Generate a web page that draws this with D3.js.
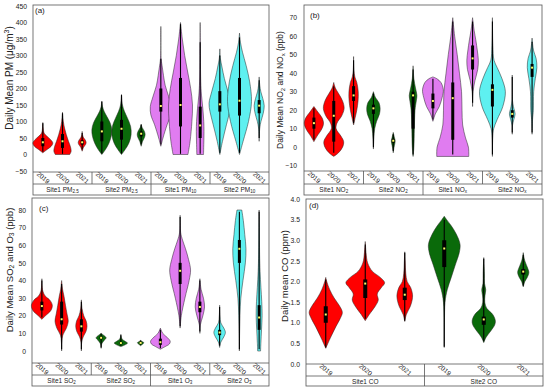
<!DOCTYPE html>
<html>
<head>
<meta charset="utf-8">
<script src="https://cdn.jsdelivr.net/npm/d3@7"></script>
<style>
  body { margin: 0; background: #fff; }
  svg { display: block; }
  text { font-family: Arial, "Liberation Sans", sans-serif; fill: #222; }
</style>
</head>
<body>
<script>
const width = 550;
const height = 391;

// ---- data ----
const years = ["2019", "2020", "2021"];

// group labels: [text, subscript]
const pmGroups = [["Site1 PM", "2.5"], ["Site2 PM", "2.5"], ["Site1 PM", "10"], ["Site2 PM", "10"]];
const no2Groups = [["Site1 NO", "2"], ["Site2 NO", "2"], ["Site1 NO", "x"], ["Site2  NO", "x"]];
const so2Groups = [["Site1 SO", "2"], ["Site2 SO", "2"], ["Site1 O", "3"], ["Site2 O", "3"]];
const coGroups = [["Site1 CO", ""], ["Site2 CO", ""]];

const pmTicks = [-50, 0, 50, 100, 150, 200, 250, 300, 350, 400, 450];
const no2Ticks = [-10, 0, 10, 20, 30, 40, 50, 60, 70];
const so2Ticks = [0, 10, 20, 30, 40, 50, 60, 70, 80];
const coTicks = [0, 0.5, 1, 1.5, 2, 2.5, 3, 3.5, 4];

// box stats per violin: [whisker low, q1, median, q3, whisker high]
const pmStats = [
  [8, 25, 37, 50, 95], [2, 20, 40, 62, 125], [15, 30, 37, 43, 65],
  [3, 40, 70, 100, 160], [3, 45, 78, 105, 180], [30, 55, 63, 70, 90],
  [30, 130, 147, 200, 290], [2, 85, 150, 232, 395], [2, 50, 88, 145, 340],
  [5, 130, 152, 192, 300], [5, 118, 163, 232, 355], [50, 125, 148, 165, 225]
];
const no2Stats = [
  [4, 10, 13, 16, 21], [-3, 3, 17, 25, 33], [13, 25, 28, 33, 47],
  [0, 18, 21, 23, 29], [-2, 2.5, 3.5, 4.5, 7], [-4, 10, 28, 30, 42],
  [15, 21, 25, 29, 37], [-4, 4, 26.5, 35, 68], [24, 42, 48, 55, 68],
  [-4, 22, 31, 34, 68], [8, 16, 18, 20, 38], [8, 38, 43, 45, 57]
];
const so2Stats = [
  [19, 23, 25.5, 28, 40], [1, 15, 18, 28, 38], [1, 11, 14, 18, 28],
  [2, 6.8, 7.5, 8.3, 10], [3, 4, 4.5, 5, 9], [3.5, 4.3, 4.6, 5, 6],
  [1.5, 3.5, 5, 7, 12], [14, 38, 45.5, 50, 76], [11, 22, 25, 28, 40],
  [3, 9, 10.5, 12, 25], [1, 50, 58, 63, 79], [1, 12, 19, 26, 79]
];
const coStats = [
  [0.4, 1.0, 1.2, 1.4, 2.05], [1.1, 1.6, 1.95, 2.05, 2.9], [1.05, 1.55, 1.68, 1.85, 2.7],
  [0.42, 2.35, 2.8, 3.0, 3.5], [0.55, 0.95, 1.08, 1.15, 2.55], [1.9, 2.17, 2.24, 2.3, 2.65]
];

// violin outlines: [value, relative density]
const pmShapes = [
  [[5, 0], [15, 0.35], [25, 0.7], [35, 0.83], [45, 0.65], [55, 0.35], [65, 0.1], [80, 0.03], [97, 0]],
  [[0, 0.6], [10, 0.72], [25, 0.65], [40, 0.5], [60, 0.32], [80, 0.17], [100, 0.07], [128, 0]],
  [[10, 0], [22, 0.12], [30, 0.28], [37, 0.33], [45, 0.24], [52, 0.1], [60, 0.03], [70, 0]],
  [[0, 0], [15, 0.3], [35, 0.6], [55, 0.78], [75, 0.83], [95, 0.7], [115, 0.42], [130, 0.2], [145, 0.06], [162, 0]],
  [[0, 0], [15, 0.3], [35, 0.62], [60, 0.8], [85, 0.76], [110, 0.5], [130, 0.25], [150, 0.08], [182, 0]],
  [[25, 0], [40, 0.12], [52, 0.28], [62, 0.33], [72, 0.24], [82, 0.08], [92, 0]],
  [[25, 0], [50, 0.18], [90, 0.52], [120, 0.83], [145, 0.88], [175, 0.66], [210, 0.36], [240, 0.22], [265, 0.12], [290, 0.03], [388, 0]],
  [[0, 0.62], [40, 0.8], [100, 0.95], [150, 1.0], [200, 0.85], [250, 0.6], [300, 0.35], [350, 0.15], [400, 0]],
  [[0, 0.28], [30, 0.3], [70, 0.32], [100, 0.3], [140, 0.22], [180, 0.11], [220, 0.05], [300, 0.02], [400, 0]],
  [[0, 0], [40, 0.22], [90, 0.55], [130, 0.82], [155, 0.9], [190, 0.68], [230, 0.38], [265, 0.18], [290, 0.05], [320, 0]],
  [[0, 0], [40, 0.3], [100, 0.75], [160, 1.0], [220, 0.85], [270, 0.55], [310, 0.25], [340, 0.08], [368, 0]],
  [[40, 0], [80, 0.05], [100, 0.15], [125, 0.34], [148, 0.42], [170, 0.3], [190, 0.14], [210, 0.05], [235, 0]]
];
const no2Shapes = [
  [[3, 0], [6, 0.2], [10, 0.5], [13, 0.6], [16, 0.5], [19, 0.25], [22, 0]],
  [[-5, 0], [-3, 0.3], [0, 0.55], [3, 0.62], [6, 0.45], [10, 0.15], [13, 0.2], [17, 0.5], [21, 0.65], [25, 0.55], [29, 0.3], [32, 0.1], [35, 0]],
  [[12, 0], [16, 0.1], [20, 0.2], [25, 0.28], [30, 0.29], [35, 0.2], [38, 0.08], [42, 0.02], [49, 0]],
  [[-1, 0], [5, 0.03], [10, 0.08], [14, 0.2], [18, 0.38], [21, 0.42], [24, 0.35], [27, 0.12], [30, 0]],
  [[-3, 0], [0, 0.05], [2, 0.1], [3.5, 0.12], [5, 0.08], [8, 0]],
  [[-5, 0], [0, 0.05], [10, 0.08], [20, 0.12], [25, 0.2], [28, 0.24], [32, 0.15], [37, 0.05], [44, 0]],
  [[14, 0], [18, 0.15], [22, 0.4], [27, 0.58], [31, 0.65], [35, 0.5], [37, 0.25], [38, 0]],
  [[-5, 1.0], [0, 0.98], [5, 0.8], [12, 0.62], [20, 0.58], [30, 0.55], [40, 0.42], [50, 0.28], [60, 0.12], [70, 0]],
  [[22, 0], [30, 0.03], [36, 0.15], [42, 0.32], [47, 0.36], [52, 0.3], [58, 0.2], [63, 0.1], [67, 0.04], [70, 0]],
  [[-5, 0], [5, 0.02], [10, 0.08], [15, 0.3], [22, 0.65], [30, 0.81], [37, 0.6], [43, 0.3], [47, 0.1], [55, 0.03], [70, 0]],
  [[7, 0], [12, 0.02], [15, 0.1], [18, 0.18], [21, 0.1], [25, 0.02], [39, 0]],
  [[7, 0], [15, 0.03], [20, 0.08], [30, 0.1], [37, 0.2], [43, 0.3], [48, 0.25], [52, 0.1], [56, 0.03], [59, 0]]
];
const so2Shapes = [
  [[18, 0], [20, 0.3], [23, 0.75], [26, 0.87], [29, 0.65], [31, 0.3], [34, 0.08], [41, 0]],
  [[0, 0], [5, 0.02], [9, 0.1], [13, 0.4], [17, 0.55], [21, 0.45], [26, 0.32], [31, 0.2], [35, 0.08], [40, 0]],
  [[0, 0], [5, 0.03], [8, 0.15], [11, 0.38], [14, 0.47], [17, 0.4], [20, 0.2], [24, 0.06], [29, 0]],
  [[1.5, 0], [4, 0.05], [6, 0.25], [7.5, 0.42], [9, 0.2], [10, 0]],
  [[2.5, 0], [3.5, 0.35], [4.5, 0.55], [5.5, 0.35], [7, 0.08], [9.5, 0]],
  [[3, 0], [4, 0.18], [4.7, 0.27], [5.3, 0.15], [6, 0]],
  [[1, 0], [2.5, 0.4], [4, 0.75], [5.5, 0.82], [7.5, 0.6], [10, 0.2], [13, 0]],
  [[13, 0], [20, 0.1], [30, 0.4], [40, 0.75], [46, 0.87], [52, 0.7], [58, 0.45], [63, 0.2], [67, 0.05], [77, 0]],
  [[10, 0], [15, 0.05], [20, 0.25], [25, 0.39], [30, 0.3], [35, 0.1], [41, 0]],
  [[2, 0], [5, 0.1], [8, 0.35], [10.5, 0.48], [13, 0.35], [16, 0.1], [20, 0.03], [26, 0]],
  [[0, 0], [10, 0.02], [20, 0.05], [30, 0.12], [40, 0.3], [50, 0.5], [58, 0.55], [66, 0.45], [74, 0.33], [80, 0.2]],
  [[0, 0.12], [5, 0.15], [12, 0.2], [20, 0.25], [28, 0.22], [36, 0.15], [45, 0.08], [55, 0.04], [70, 0.02], [80, 0]]
];
const coShapes = [
  [[0.38, 0], [0.6, 0.2], [0.9, 0.5], [1.1, 0.72], [1.25, 0.83], [1.4, 0.7], [1.6, 0.42], [1.8, 0.2], [2.0, 0.05], [2.1, 0]],
  [[1.05, 0], [1.2, 0.2], [1.4, 0.5], [1.55, 0.65], [1.7, 0.6], [1.85, 0.8], [1.97, 0.97], [2.1, 0.75], [2.25, 0.35], [2.45, 0.12], [2.7, 0.04], [2.97, 0]],
  [[1.03, 0], [1.2, 0.08], [1.4, 0.28], [1.55, 0.37], [1.68, 0.39], [1.85, 0.3], [2.0, 0.12], [2.2, 0.05], [2.5, 0.02], [2.72, 0]],
  [[0.4, 0], [1.0, 0.01], [1.5, 0.04], [1.8, 0.15], [2.1, 0.35], [2.4, 0.55], [2.7, 0.75], [2.9, 0.79], [3.15, 0.6], [3.35, 0.35], [3.5, 0.12], [3.58, 0]],
  [[0.52, 0], [0.65, 0.12], [0.8, 0.35], [0.95, 0.55], [1.05, 0.58], [1.2, 0.45], [1.35, 0.15], [1.5, 0.05], [1.65, 0.06], [1.8, 0.1], [1.95, 0.04], [2.2, 0.03], [2.58, 0]],
  [[1.87, 0], [2.0, 0.08], [2.1, 0.2], [2.22, 0.28], [2.35, 0.2], [2.5, 0.08], [2.6, 0.03], [2.7, 0]]
];

// axis titles as [text, "sub"|"sup"|null] pieces
const pmTitle = [["Daily Mean PM (μg/m", null], ["3", "sup"], [")", null]];
const no2Title = [["Daily Mean NO", null], ["2", "sub"], [" and NO", null], ["x", "sub"], [" (ppb)", null]];
const so2Title = [["Daily Mean SO", null], ["2", "sub"], [" and O", null], ["3", "sub"], [" (ppb)", null]];
const coTitle = [["Daily mean CO (ppm)", null]];

// ---- styles / layout ----
const groupColors = ["#ff0000", "#0a6a0a", "#e07cf0", "#5ef0f0"];

const panels = [
  { letter: "(a)", groups: pmGroups, stats: pmStats, shapes: pmShapes, ticks: pmTicks, title: pmTitle,
    fmt: d3.format("d"), domain: [-50, 450], range: [171, 6],
    left: 33, right: 269, top: 5, bottom: 172, yearB: 184, labelB: 195,
    half: 12, box: 3, tickPad: 6, titleX: 10, titleY: 78, titleSize: 10, letterX: 35, letterY: 13 },
  { letter: "(b)", groups: no2Groups, stats: no2Stats, shapes: no2Shapes, ticks: no2Ticks, title: no2Title,
    fmt: d3.format("d"), domain: [-10, 70], range: [165.7, 17.7],
    left: 304, right: 542, top: 5, bottom: 171, yearB: 184, labelB: 195,
    half: 16, box: 3, tickPad: 7, titleX: 281, titleY: 90, titleSize: 8.5, letterX: 310, letterY: 18 },
  { letter: "(c)", groups: so2Groups, stats: so2Stats, shapes: so2Shapes, ticks: so2Ticks, title: so2Title,
    fmt: d3.format("d"), domain: [0, 80], range: [351, 210],
    left: 32, right: 269, top: 198, bottom: 363, yearB: 375, labelB: 386,
    half: 12, box: 3, tickPad: 6, titleX: 10, titleY: 270, titleSize: 9.5, letterX: 39, letterY: 211 },
  { letter: "(d)", groups: coGroups, stats: coStats, shapes: coShapes, ticks: coTicks, title: coTitle,
    fmt: d3.format(".1f"), domain: [0, 4], range: [364, 199],
    left: 306, right: 543, top: 199, bottom: 364, yearB: 376, labelB: 386,
    half: 20, box: 4, tickPad: 6, titleX: 285, titleY: 276, titleSize: 9.5, letterX: 309, letterY: 208 }
];

const svg = d3
  .select("body")
  .append("svg")
  .attr("width", width)
  .attr("height", height);

function richText(sel, pieces, size) {
  let shift = 0;
  pieces.forEach(([t, kind]) => {
    const target = kind === "sub" ? size * 0.25 : kind === "sup" ? -size * 0.35 : 0;
    sel.append("tspan")
      .attr("dy", target - shift)
      .attr("font-size", kind ? size * 0.7 : size)
      .text(t);
    shift = target;
  });
}

panels.forEach((p) => {
  const g = svg.append("g");
  const slots = [];
  p.groups.forEach((_, gi) => years.forEach((yr) => slots.push(gi + "-" + yr)));

  const x = d3.scaleBand().domain(slots).range([p.left, p.right]).padding(0);
  const y = d3.scaleLinear().domain(p.domain).range(p.range);
  const w = d3.scaleLinear().domain([0, 1]).range([0, p.half]);

  // frames
  g.append("rect")
    .attr("x", p.left).attr("y", p.top)
    .attr("width", p.right - p.left).attr("height", p.labelB - p.top)
    .attr("fill", "none").attr("stroke", "#555").attr("stroke-width", 0.8);
  [p.bottom, p.yearB].forEach((yy) =>
    g.append("line")
      .attr("x1", p.left).attr("x2", p.right).attr("y1", yy).attr("y2", yy)
      .attr("stroke", "#555").attr("stroke-width", 0.8));

  // group separators
  p.groups.forEach((_, gi) => {
    if (gi === 0) return;
    const sx = x(gi + "-" + years[0]);
    const mid = gi === p.groups.length / 2;
    g.append("line")
      .attr("x1", sx).attr("x2", sx)
      .attr("y1", p.bottom).attr("y2", mid ? p.labelB : p.yearB)
      .attr("stroke", "#555").attr("stroke-width", 0.8);
  });

  // y axis
  const axis = g.append("g")
    .attr("transform", `translate(${p.left},0)`)
    .call(d3.axisLeft(y).tickValues(p.ticks).tickFormat(p.fmt).tickSize(0).tickPadding(p.tickPad));
  axis.select(".domain").remove();
  axis.selectAll("text")
    .attr("font-size", 6.8)
    .attr("font-family", "Arial, 'Liberation Sans', sans-serif")
    .attr("fill", "#333");

  // axis title
  const title = g.append("text")
    .attr("transform", `translate(${p.titleX},${p.titleY}) rotate(-90)`)
    .attr("text-anchor", "middle")
    .attr("dominant-baseline", "middle");
  richText(title, p.title, p.titleSize);

  // panel letter
  g.append("text")
    .attr("x", p.letterX).attr("y", p.letterY)
    .attr("font-size", 8)
    .text(p.letter);

  // violins
  const vg = g.append("g");
  slots.forEach((key, i) => {
    const gi = Math.floor(i / 3);
    const cx = x(key) + x.bandwidth() / 2;
    const [lo, q1, med, q3, hi] = p.stats[i];
    const area = d3.area()
      .curve(d3.curveCatmullRom.alpha(0.5))
      .y((d) => y(d[0]))
      .x0((d) => cx - w(d[1]))
      .x1((d) => cx + w(d[1]));

    vg.append("path")
      .attr("d", area(p.shapes[i]))
      .attr("fill", groupColors[gi])
      .attr("stroke", "#222")
      .attr("stroke-width", 0.5);

    vg.append("line")
      .attr("x1", cx).attr("x2", cx)
      .attr("y1", y(lo)).attr("y2", y(hi))
      .attr("stroke", "#000").attr("stroke-width", 1.1);

    vg.append("rect")
      .attr("x", cx - p.box / 2).attr("width", p.box)
      .attr("y", y(q3)).attr("height", y(q1) - y(q3))
      .attr("fill", "#000");

    vg.append("rect")
      .attr("x", cx - 1).attr("y", y(med) - 1)
      .attr("width", 2).attr("height", 2)
      .attr("fill", "#ffff66");
  });

  // year labels
  const rowMid = (p.bottom + p.yearB) / 2;
  g.selectAll(".yr")
    .data(slots)
    .join("text")
    .attr("class", "yr")
    .attr("transform", (d) => `translate(${x(d) + x.bandwidth() / 2},${rowMid}) rotate(40)`)
    .attr("text-anchor", "middle")
    .attr("dominant-baseline", "middle")
    .attr("font-size", 6.5)
    .attr("fill", "#333")
    .text((d) => d.split("-")[1]);

  // group labels
  const labMid = (p.yearB + p.labelB) / 2 + 0.5;
  p.groups.forEach((lab, gi) => {
    const gx = x(gi + "-" + years[0]) + (x.bandwidth() * 3) / 2;
    const t = g.append("text")
      .attr("x", gx).attr("y", labMid)
      .attr("text-anchor", "middle")
      .attr("dominant-baseline", "middle")
      .attr("fill", "#333");
    richText(t, [[lab[0], null], [lab[1], "sub"]], 6.5);
  });
});
</script>
</body>
</html>
